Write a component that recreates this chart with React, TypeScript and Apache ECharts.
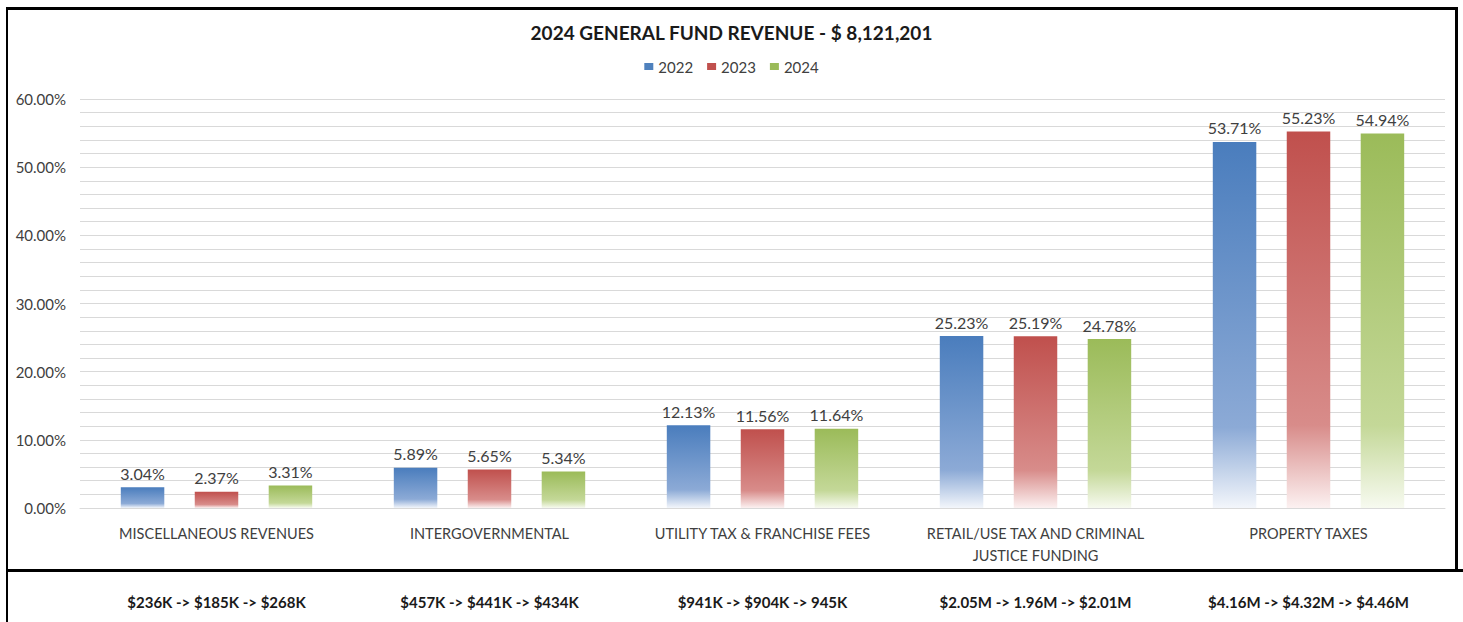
import React, { useEffect, useRef } from "react";
import * as echarts from "echarts";

const categories = [
  "MISCELLANEOUS REVENUES",
  "INTERGOVERNMENTAL",
  "UTILITY TAX & FRANCHISE FEES",
  "RETAIL/USE TAX AND CRIMINAL\nJUSTICE FUNDING",
  "PROPERTY TAXES",
];
const amountLabels = [
  "$236K -> $185K -> $268K",
  "$457K -> $441K -> $434K",
  "$941K -> $904K -> 945K",
  "$2.05M -> 1.96M -> $2.01M",
  "$4.16M -> $4.32M -> $4.46M",
];
const seriesNames = ["2022", "2023", "2024"];
const values2022 = [3.04, 5.89, 12.13, 25.23, 53.71];
const values2023 = [2.37, 5.65, 11.56, 25.19, 55.23];
const values2024 = [3.31, 5.34, 11.64, 24.78, 54.94];
const yTicksMajor = [0, 10, 20, 30, 40, 50, 60];

const palette = [
  { top: "#4a7dbd", mid: "#8caad6", bottom: "#f3f6fb", legend: "#4f81bd" },
  { top: "#c0504d", mid: "#d88c8a", bottom: "#fcf1f1", legend: "#c0504d" },
  { top: "#9bbb59", mid: "#c4d898", bottom: "#f7faf0", legend: "#9bbb59" },
];

const FONT = "Lato, 'Noto Sans', sans-serif";

export default function App() {
  const ref = useRef<HTMLDivElement>(null);
  useEffect(() => {
    if (!ref.current) return;
    const chart = echarts.init(ref.current, undefined, { renderer: "svg" });
    const allValues = [values2022, values2023, values2024];
    const series = allValues.map((vals, i) => ({
      name: seriesNames[i],
      type: "bar",
      barWidth: 43.5,
      barGap: "70%",
      data: vals,
      itemStyle: {
        color: new echarts.graphic.LinearGradient(0, 0, 0, 1, [
          { offset: 0, color: palette[i].top },
          { offset: 0.78, color: palette[i].mid },
          { offset: 1, color: palette[i].bottom },
        ]),
      },
      label: {
        show: true,
        position: "top",
        distance: 6,
        color: "#404040",
        fontSize: 16,
        fontFamily: FONT,
        formatter: (p: any) => p.value.toFixed(2) + "%",
      },
    }));
    chart.setOption({
      animation: false,
      backgroundColor: "#ffffff",
      title: {
        text: "2024 GENERAL FUND REVENUE - $ 8,121,201",
        left: "center",
        top: 18,
        textStyle: { fontFamily: FONT, fontWeight: "bold", fontSize: 19, color: "#1a1a1a" },
      },
      legend: {
        top: 54,
        left: "center",
        itemWidth: 9,
        itemHeight: 7,
        itemGap: 14,
        icon: "rect",
        textStyle: { fontFamily: FONT, fontSize: 15, color: "#404040" },
        data: seriesNames.map((n, i) => ({ name: n, itemStyle: { color: palette[i].legend } })),
      },
      grid: { left: 80, right: 18, top: 99, bottom: 114, containLabel: false },
      xAxis: [
        {
          type: "category",
          data: categories,
          axisLine: { lineStyle: { color: "#d9d9d9" } },
          axisTick: { show: false },
          axisLabel: {
            interval: 0,
            margin: 14,
            color: "#404040",
            fontSize: 14.5,
            lineHeight: 22,
            fontFamily: FONT,
          },
        },
        {
          type: "category",
          position: "bottom",
          offset: 80,
          data: amountLabels,
          axisLine: { show: false },
          axisTick: { show: false },
          axisLabel: {
            interval: 0,
            margin: 6,
            color: "#1a1a1a",
            fontSize: 15,
            fontWeight: "bold",
            fontFamily: FONT,
          },
        },
      ],
      yAxis: {
        type: "value",
        min: 0,
        max: 60,
        interval: 2,
        axisLine: { show: false },
        axisTick: { show: false },
        splitLine: { lineStyle: { color: "#d9d9d9" } },
        axisLabel: {
          margin: 14,
          color: "#404040",
          fontSize: 15,
          fontFamily: FONT,
          formatter: (v: number) => (yTicksMajor.includes(v) ? v.toFixed(2) + "%" : ""),
        },
      },
      graphic: [
        { type: "rect", shape: { x: 6, y: 7, width: 1451, height: 3 }, style: { fill: "#000" } },
        { type: "rect", shape: { x: 6, y: 7, width: 2, height: 615 }, style: { fill: "#000" } },
        { type: "rect", shape: { x: 1455, y: 7, width: 3, height: 565 }, style: { fill: "#000" } },
        { type: "rect", shape: { x: 6, y: 569, width: 1457, height: 3 }, style: { fill: "#000" } },
      ],
      series,
    });
    return () => chart.dispose();
  }, []);
  return <div ref={ref} style={{ width: 1463, height: 622, position: "absolute", left: 0, top: 0 }} />;
}
